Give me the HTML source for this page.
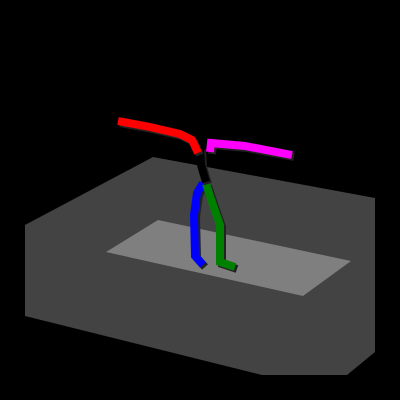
<!DOCTYPE html>
<html><head><style>html,body{margin:0;padding:0;background:#000;width:400px;height:400px;overflow:hidden}</style></head>
<body>
<svg id="scene" width="400" height="400" viewBox="0 0 400 400">
<rect width="400" height="400" fill="#000"/>
<polygon points="25,225 153,157 375,198 375,352 347,375 262,375 25,316" fill="#434343"/>
<polygon points="106,252 158,220 351,261 303,296" fill="#7f7f7f"/>
<g id="bones"></g>
</svg>
<script>
const boneNames = ['right-arm','left-arm','spine','right-leg','left-leg'];
const boneColors = ['#ff0000','#ff00ff','#000000','#0000ff','#008000'];
const rightArmX = [118,150,180,192,198];
const rightArmY = [121,127,134,140,153];
const leftArmX = [210,211,245,292];
const leftArmY = [152,143,146,155];
const spineX = [200,201,206];
const spineY = [148,165,182];
const rightLegX = [203,197,194,195,203];
const rightLegY = [183,193,215,256,265];
const leftLegX = [206,213,220,220,235];
const leftLegY = [184,205,225,262,267];
const xs = [rightArmX,leftArmX,spineX,rightLegX,leftLegX];
const ys = [rightArmY,leftArmY,spineY,rightLegY,leftLegY];
const g = document.getElementById('bones');
const order = [3,4,2,0,1];
order.forEach(i=>{
  const shadow = document.createElementNS('http://www.w3.org/2000/svg','polyline');
  shadow.setAttribute('points', xs[i].map((x,j)=>(x+2)+','+(ys[i][j]+2)).join(' '));
  shadow.setAttribute('fill','none');shadow.setAttribute('stroke','#222');shadow.setAttribute('stroke-width','8');
  
  
  g.appendChild(shadow);
  const p = document.createElementNS('http://www.w3.org/2000/svg','polyline');
  p.setAttribute('points', xs[i].map((x,j)=>x+','+ys[i][j]).join(' '));
  p.setAttribute('fill','none');p.setAttribute('stroke',boneColors[i]);p.setAttribute('stroke-width','8');
  p.setAttribute('stroke-linejoin','miter');
  
  
  g.appendChild(p);
});
</script>
</body></html>
